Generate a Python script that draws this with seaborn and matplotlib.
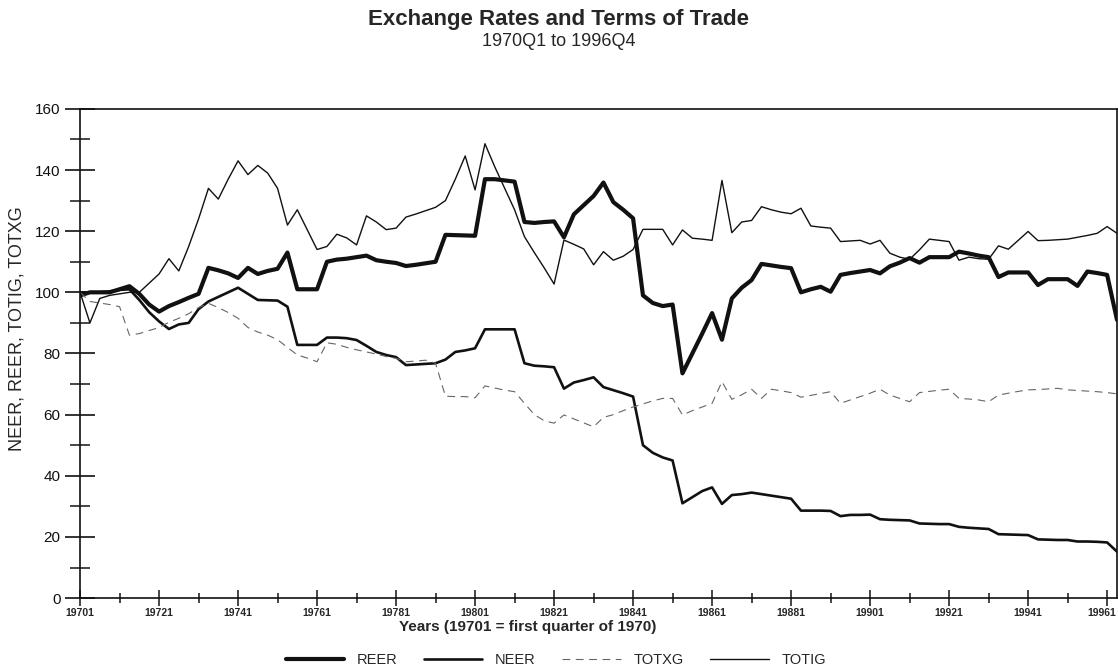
import matplotlib
matplotlib.use("Agg")
import matplotlib.pyplot as plt
from matplotlib.ticker import MultipleLocator, FixedLocator
from matplotlib.transforms import ScaledTranslation
import numpy as np
import pandas as pd
import seaborn as sns

# quarterly index, 0 = 1970Q1
quarters = np.arange(106)

reer = [99, 100, 100, 100, 101, 102, 99.5, 96, 93.7, 95.5,
        96.8, 98.2, 99.5, 108, 107.2, 106.2, 104.7, 108, 106, 107,
        107.7, 113, 101, 101, 101, 110, 110.7, 111, 111.5, 112,
        110.5, 110, 109.6, 108.6, 109, 109.5, 110, 118.8, 118.7, 118.6,
        118.5, 137, 137, 136.6, 136.2, 123, 122.7, 123, 123.2, 118,
        125.5, 128.5, 131.5, 135.9, 129.5, 127, 124.2, 99, 96.5, 95.5,
        96, 73.5, 80, 86.5, 93.2, 84.5, 98, 101.5, 104, 109.3,
        108.8, 108.3, 107.9, 100, 101, 101.8, 100.2, 105.7, 106.3, 106.8,
        107.3, 106.2, 108.5, 109.7, 111.2, 109.7, 111.5, 111.5, 111.5, 113.3,
        112.7, 112, 111.5, 105, 106.5, 106.5, 106.5, 102.4, 104.3, 104.3,
        104.3, 102.1, 106.8, 106.3, 105.7, 91]

neer = [100, 100, 100, 100.3, 100.8, 101, 97.5, 93.5, 90.5, 88,
        89.5, 90, 94.5, 97, 98.5, 100, 101.5, 99.5, 97.5, 97.4,
        97.3, 95.3, 82.8, 82.8, 82.8, 85.2, 85.2, 85, 84.4, 82.5,
        80.5, 79.5, 78.8, 76.2, 76.4, 76.6, 76.8, 78, 80.5, 81,
        81.7, 87.9, 87.9, 87.9, 87.9, 76.8, 76, 75.8, 75.5, 68.5,
        70.5, 71.3, 72.2, 69, 68, 67, 65.9, 50, 47.5, 46,
        45, 31, 33, 35, 36.2, 30.8, 33.7, 34, 34.5, 34,
        33.5, 33, 32.5, 28.6, 28.6, 28.6, 28.5, 26.8, 27.2, 27.2,
        27.3, 25.8, 25.6, 25.5, 25.4, 24.4, 24.3, 24.2, 24.2, 23.3,
        23, 22.8, 22.6, 20.9, 20.8, 20.7, 20.6, 19.2, 19.1, 19,
        19, 18.5, 18.5, 18.4, 18.2, 15.2]

totxg = [100, 97, 96.5, 96, 95.3, 86, 86.5, 87.5, 88.5, 90.2,
         91.5, 93, 95, 96.4, 95, 93.4, 91.5, 88.5, 87, 86,
         84.5, 82, 79.5, 78.5, 77.3, 83.5, 83, 82, 81.2, 80.5,
         79.8, 79, 78.4, 77.3, 77.5, 77.8, 76.8, 66, 65.9, 65.9,
         65.5, 69.4, 68.7, 68, 67.5, 63.7, 60, 58, 57.2, 59.9,
         58.6, 57.3, 56, 59.1, 60, 61.3, 62.5, 63.5, 64.5, 65.3,
         65.3, 59.9, 61.3, 62.5, 63.7, 70.8, 65, 66.5, 68.3, 65.3,
         68.3, 67.8, 67.2, 65.7, 66.3, 66.9, 67.5, 63.7, 64.8, 65.9,
         67, 68.3, 66.4, 65.3, 64.2, 67.2, 67.6, 68, 68.3, 65.3,
         65.1, 64.8, 64.2, 66.4, 67, 67.6, 68.1, 68.2, 68.4, 68.6,
         68.1, 67.9, 67.7, 67.5, 67.2, 66.8]

totig = [100, 90, 98, 99, 99.5, 100, 100, 103, 106, 111,
         107, 115, 124, 134, 130.5, 137, 143, 138.5, 141.5, 139,
         134, 122, 127, 120.5, 114, 115, 119, 117.8, 115.5, 125,
         123, 120.5, 121, 124.6, 125.6, 126.7, 127.8, 130, 137, 144.6,
         133.5, 148.6, 141, 134, 127, 118.2, 113, 108, 102.7, 117.1,
         115.7, 114.2, 109, 113.3, 110.5, 111.8, 114, 120.6, 120.6, 120.6,
         115.5, 120.4, 117.7, 117.4, 117, 136.6, 119.5, 123, 123.5, 128,
         127, 126.2, 125.7, 127.5, 121.7, 121.3, 121, 116.6, 116.8, 117,
         115.8, 117, 112.8, 111.5, 110.8, 113.9, 117.4, 117, 116.6, 110.5,
         111.5, 111, 110.8, 115.2, 114.1, 117, 119.9, 116.9, 117, 117.2,
         117.4, 118, 118.6, 119.3, 121.5, 119.3]

tick_labels = ["19701", "19721", "19741", "19761", "19781", "19801", "19821",
               "19841", "19861", "19881", "19901", "19921", "19941", "19961"]

df = pd.DataFrame({"quarter": quarters, "REER": reer, "NEER": neer,
                   "TOTXG": totxg, "TOTIG": totig})
long = df.melt(id_vars="quarter", var_name="series", value_name="value")

sns.set_style("ticks")
plt.rcParams["font.family"] = ["Liberation Sans", "DejaVu Sans"]

fig = plt.figure(figsize=(11.18, 6.72), dpi=100)
ax = fig.add_axes([0.0716, 0.110, 0.9275, 0.728])

line_styles = {
    "REER": dict(color="#111111", linewidth=3.0, linestyle="-"),
    "NEER": dict(color="#111111", linewidth=1.9, linestyle="-"),
    "TOTXG": dict(color="#666666", linewidth=0.8, linestyle=(0, (7, 5))),
    "TOTIG": dict(color="#111111", linewidth=1.0, linestyle="-"),
}
for name in ["REER", "NEER", "TOTXG", "TOTIG"]:
    sub = long[long["series"] == name]
    sns.lineplot(data=sub, x="quarter", y="value", ax=ax, label=name,
                 **line_styles[name])

ax.set_xlim(0, 105)
ax.set_ylim(0, 160)

ax.xaxis.set_major_locator(FixedLocator(np.arange(0, 105, 8)))
ax.xaxis.set_minor_locator(FixedLocator(np.arange(4, 105, 8)))
ax.set_xticklabels(tick_labels)
ax.yaxis.set_major_locator(MultipleLocator(20))
ax.yaxis.set_minor_locator(MultipleLocator(10))

ax.tick_params(axis="y", which="major", direction="inout", length=22,
               width=1.2, labelsize=11, pad=3, colors="#111111")
ax.tick_params(axis="y", which="minor", direction="inout", length=15, width=1.2)
ax.tick_params(axis="x", which="major", direction="inout", length=11,
               width=1.2, labelsize=7.5, pad=2)
ax.tick_params(axis="x", which="minor", direction="inout", length=7, width=1.2)
xlabs = ax.get_xticklabels()
for lab in xlabs:
    lab.set_fontweight("bold")
# last label sits against the right edge, nudge it in a little
xlabs[-1].set_transform(xlabs[-1].get_transform()
                        + ScaledTranslation(-5 / 100, 0, fig.dpi_scale_trans))

for sp in ax.spines.values():
    sp.set_visible(True)
    sp.set_linewidth(1.2)
    sp.set_color("#111111")

ax.set_ylabel("NEER, REER, TOTIG, TOTXG", fontsize=13)
ax.yaxis.set_label_coords(-0.053, 0.55)
ax.set_xlabel("Years (19701 = first quarter of 1970)", fontsize=11,
              fontweight="bold")
ax.xaxis.set_label_coords(0.432, -0.045)

fig.text(0.5, 1 - 19 / 672, "Exchange Rates and Terms of Trade",
         ha="center", va="center", fontsize=16, fontweight="bold")
fig.text(0.5, 1 - 41 / 672, "1970Q1 to 1996Q4", ha="center", va="center",
         fontsize=13)

handles, labels = ax.get_legend_handles_labels()
ax.legend_.remove()
fig.legend(handles, labels, loc="center", bbox_to_anchor=(0.497, 1 - 660 / 672),
           ncol=4, frameon=False, handlelength=4.0, columnspacing=1.85,
           handletextpad=0.85, fontsize=10.5)

fig.savefig("out.png", dpi=100)
